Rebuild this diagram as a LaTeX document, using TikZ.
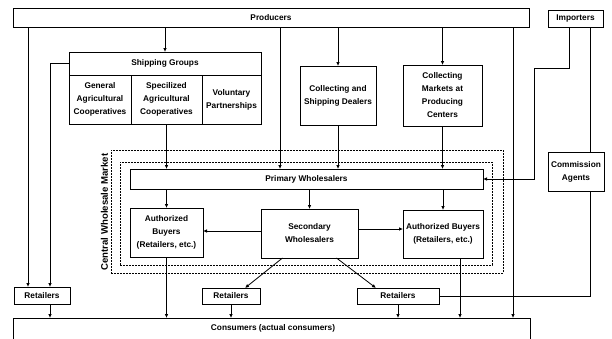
\documentclass[tikz,border=0pt]{standalone}
\usepackage{fontspec}
\setmainfont{Liberation Sans}
\usetikzlibrary{arrows.meta,calc}
\begin{document}
\begin{tikzpicture}[x=1pt,y=-1pt,
  box/.style={draw,line width=0.9pt,fill=white,inner sep=1pt,outer sep=0pt,align=center,
    font=\fontsize{8.3}{13}\selectfont\bfseries},
  market/.style={draw,line width=0.8pt,dash pattern=on 2pt off 1pt,inner sep=0pt,outer sep=0pt},
  arr/.style={line width=0.8pt,-{Latex[length=4pt,width=3.6pt]}},
  ln/.style={line width=0.8pt},
  lbl/.style={font=\fontsize{8.3}{13}\selectfont\bfseries}]
\useasboundingbox (0,0) rectangle (612,338);
\clip (0,0) rectangle (612,338);
\fill[white] (0,0) rectangle (612,338);

% columns for connectors
\coordinate (cA) at (28,0);
\coordinate (cB) at (50,0);
\coordinate (cP) at (280,0);
\coordinate (cR) at (513,0);
\coordinate (cI1) at (569,0);
\coordinate (cI3) at (590,0);
\coordinate (bend1) at (534,68);

% central wholesale market frames
\node[market,minimum width=392,minimum height=123] (cwmo) at (307,211.5) {};
\node[market,minimum width=372,minimum height=103] (cwmi) at (306,213.5) {};
\node[rotate=90,font=\fontsize{9.6}{11}\selectfont\bfseries] (cwmlbl) at (104.5,212) {Central Wholesale Market};

% boxes
\node[box,minimum width=516,minimum height=19] (prod) at (271,17.5) {Producers};
\node[box,minimum width=55,minimum height=17] (imp) at (575.5,18.5) {Importers};
\node[box,minimum width=192,minimum height=23] (sgh) at (165,63.5) {Shipping Groups};
\node[box,minimum width=62,minimum height=49] (gac) at (100,99.5) {General\\Agricultural\\Cooperatives};
\node[box,minimum width=71,minimum height=49] (sac) at (166.5,99.5) {Specilized\\Agricultural\\Cooperatives};
\node[box,minimum width=59,minimum height=49] (vp) at (231.5,99.5) {Voluntary\\Partnerships};
\node[box,minimum width=76,minimum height=59] (csd) at (338,95.5) {Collecting and\\Shipping Dealers};
\node[box,minimum width=79,minimum height=61] (cm) at (442.5,95.5) {Collecting\\Markets at\\Producing\\Centers};
\node[box,minimum width=56,minimum height=39] (ca) at (576,171.5) {Commission\\Agents};
\node[box,minimum width=353,minimum height=20] (pw) at (306.5,179) {Primary Wholesalers};
\node[box,minimum width=73,minimum height=49] (abl) at (166.5,232.5) {Authorized\\Buyers\\(Retailers, etc.)};
\node[box,minimum width=97,minimum height=49] (sw) at (309.5,233.5) {Secondary\\Wholesalers};
\node[box,minimum width=80,minimum height=48] (abr) at (443,234) {Authorized Buyers\\(Retailers, etc.)};
\node[box,minimum width=56,minimum height=17] (retL) at (42,295.5) {Retailers};
\node[box,minimum width=58,minimum height=16] (retM) at (231,296) {Retailers};
\node[box,minimum width=82,minimum height=16] (retR) at (398,296) {Retailers};
\node[box,minimum width=517,minimum height=40,anchor=north west] (cons) at (13,318) {};
\node[lbl] (conslbl) at (273,328) {Consumers (actual consumers)};

% connectors from producers
\draw[arr] (prod.south -| sgh.north) -- (sgh.north);
\draw[arr] (prod.south -| csd.north) -- (csd.north);
\draw[arr] (prod.south -| cm.north) -- (cm.north);
\draw[arr] (cA |- prod.south) -- (cA |- retL.north);
\draw[arr] (cP |- prod.south) -- (cP |- pw.north);
\draw[arr] (cR |- prod.south) -- (cR |- cons.north);
\draw[arr] (sgh.west) -| (cB |- retL.north);

% into primary wholesalers
\draw[arr] (sac.south) -- (sac.south |- pw.north);
\draw[arr] (csd.south) -- (csd.south |- pw.north);
\draw[arr] (cm.south) -- (cm.south |- pw.north);
\draw[arr] (cI1 |- imp.south) |- (bend1) |- (pw.east);
\draw[ln] (cI3 |- imp.south) -- (cI3 |- ca.north);
\draw[ln] (cI3 |- ca.south) |- (retR.east);

% inside market
\draw[arr] (abl.north |- pw.south) -- (abl.north);
\draw[arr] (sw.north |- pw.south) -- (sw.north);
\draw[arr] (abr.north |- pw.south) -- (abr.north);
\coordinate (swl) at ([yshift=2.5pt]sw.west);
\coordinate (swr) at ([yshift=4.5pt]sw.east);
\draw[arr] (swl) -- (swl -| abl.east);
\draw[arr] (swr) -- (swr -| abr.west);
\draw[arr] ([xshift=-27pt]sw.south) -- ([xshift=14pt]retM.north);
\draw[arr] ([xshift=27pt]sw.south) -- ([xshift=-22pt]retR.north);

% to consumers
\coordinate (abrout) at ([xshift=17pt]abr.south);
\draw[arr] (abl.south) -- (abl.south |- cons.north);
\draw[arr] (abrout) -- (abrout |- cons.north);
\draw[arr] (cB |- retL.south) -- (cB |- cons.north);
\draw[arr] (retM.south) -- (retM.south |- cons.north);
\draw[arr] (retR.south) -- (retR.south |- cons.north);
\end{tikzpicture}
\end{document}
